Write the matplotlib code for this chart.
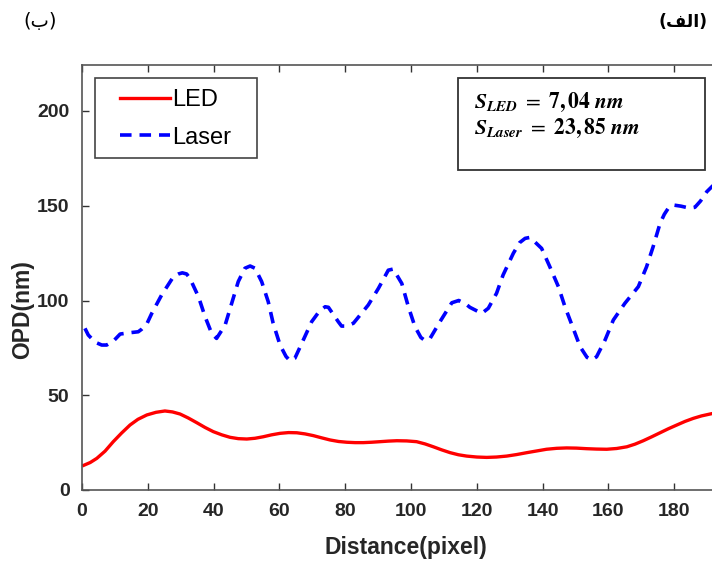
import matplotlib
matplotlib.use("Agg")
import matplotlib.pyplot as plt

# ---- data ----
laser_x = [0.9, 1.9, 4.0, 6.0, 7.5, 9.5, 11.6, 14.5, 17.1, 18.1, 19.8, 21.2, 24.2, 27.8, 29.3,
           30.5, 31.8, 32.8, 35.4, 37.4, 39.4, 40.9, 43.5, 45.5, 47.5, 49.5, 51.1, 52.6, 54.6, 56.6,
           58.1, 60.2, 62.0, 63.2, 64.7, 66.8, 69.8, 72.0, 73.9, 74.9, 77.9, 78.9, 80.5, 82.5,
           87.0, 90.1, 93.1, 94.6, 97.2, 99.2, 101.2, 103.0, 104.3, 105.8, 108.8, 112.4, 114.5,
           116.4, 117.9, 121.5, 123.5, 126.0, 128.0, 131.1, 133.0, 134.7, 136.2, 139.7, 142.2,
           144.8, 146.8, 149.3, 151.4, 153.5, 154.9, 156.4, 159.0, 161.5, 165.0, 169.1, 171.6,
           173.6, 175.7, 177.0, 178.2, 179.7, 182.0, 184.8, 186.3, 188.0, 189.9, 192.0]
laser_y = [85.3, 81.8, 78.0, 76.5, 76.5, 78.5, 82.3, 83.0, 83.5, 84.8, 88.0, 93.2, 102.9, 112.6,
           114.0, 114.6, 114.0, 111.7, 102.0, 91.5, 82.7, 80.0, 87.0, 98.5, 110.0, 117.0, 118.2, 117.0,
           110.0, 99.4, 88.0, 76.5, 70.5, 68.2, 69.5, 77.4, 88.8, 94.0, 96.7, 96.4, 88.8, 86.5,
           86.5, 88.0, 97.6, 106.4, 116.0, 116.6, 109.0, 96.7, 86.2, 80.5, 78.8, 80.0, 88.8,
           98.8, 100.0, 98.5, 96.4, 93.2, 95.9, 103.8, 113.5, 124.9, 130.5, 132.8, 133.3, 127.5,
           117.8, 107.3, 96.7, 85.3, 75.6, 70.0, 68.6, 70.3, 79.2, 89.7, 98.5, 107.3, 117.8,
           128.4, 140.7, 145.5, 148.7, 150.4, 149.8, 148.7, 149.2, 152.5, 157.4, 161.0]

led_x = [0.5, 2.5, 4.5, 7.0, 9.5, 12.0, 14.6, 17.0, 19.7, 22.5, 25.2, 27.5, 29.8, 32.3, 34.9,
         37.4, 39.9, 42.5, 45.0, 47.5, 50.1, 52.6, 55.1, 57.6, 60.2, 62.8, 65.3, 67.8, 70.3,
         72.9, 75.4, 78.0, 80.5, 83.0, 85.5, 88.0, 90.6, 93.1, 95.7, 98.7, 101.7, 104.3, 106.8,
         109.3, 111.9, 114.4, 116.9, 120.0, 123.0, 126.0, 129.1, 132.1, 135.2, 138.2, 141.2,
         144.3, 147.3, 150.3, 153.4, 156.4, 159.5, 162.5, 165.6, 168.1, 170.6, 173.2, 175.7,
         178.2, 180.8, 183.3, 185.8, 188.3, 190.9, 192.0]
led_y = [13.0, 14.5, 16.7, 20.5, 25.5, 30.0, 34.3, 37.3, 39.6, 41.0, 41.7, 41.2, 40.1, 38.0, 35.5,
         33.0, 30.8, 29.1, 27.8, 27.1, 26.9, 27.3, 28.1, 29.1, 29.9, 30.3, 30.2, 29.6, 28.7,
         27.5, 26.4, 25.6, 25.2, 25.0, 25.0, 25.2, 25.5, 25.8, 26.0, 25.9, 25.5, 24.3, 22.8,
         21.2, 19.7, 18.6, 17.9, 17.4, 17.2, 17.4, 17.9, 18.7, 19.7, 20.6, 21.5,
         22.0, 22.2, 22.1, 21.8, 21.6, 21.5, 21.9, 22.8, 24.2, 26.0, 28.1, 30.2,
         32.3, 34.3, 36.2, 37.8, 39.1, 40.1, 40.5]

series_labels = ["LED", "Laser"]
x_ticks = [0, 20, 40, 60, 80, 100, 120, 140, 160, 180]
y_ticks = [0, 50, 100, 150, 200]
stats_lines = [r"$\mathbfit{S}_{\mathbfit{LED}}\ =\ \mathbf{7,04}\ \mathbfit{nm}$",
               r"$\mathbfit{S}_{\mathbfit{Laser}}\ =\ \mathbf{23,85}\ \mathbfit{nm}$"]
panel_right = "(\ufed2\ufedf\ufe8d)"   # (الف) rendered visually
panel_left = "(ب)"

plt.rcParams['font.family'] = ['Liberation Sans', 'DejaVu Sans']
plt.rcParams['mathtext.fontset'] = 'stix'

W, H = 712, 561
fig = plt.figure(figsize=(W / 100, H / 100), dpi=100)
left, right, bottom, top = 82, 730, 490, 65
ax = fig.add_axes([left / W, 1 - bottom / H, (right - left) / W, (bottom - top) / H])

ax.plot(led_x, led_y, color='#FF0000', lw=2.4, label=series_labels[0])
ax.plot(laser_x, laser_y, color='#0000FF', lw=2.6, linestyle=(0, (3.2, 2.2)), label=series_labels[1])

ax.set_xlim(0, (right - left) / 3.29)
ax.set_ylim(0, (bottom - top) / 1.895)
ax.set_xticks(x_ticks)
ax.set_yticks(y_ticks)
ax.tick_params(direction='in', top=True, right=True, length=5, width=1, color='#333333',
               labelsize=14, labelcolor='#262626', pad=9)
for lab in ax.get_xticklabels() + ax.get_yticklabels():
    lab.set_fontweight('bold')
for s in ax.spines.values():
    s.set_color('#555555')
    s.set_linewidth(1.2)

ax.set_xlabel("Distance(pixel)", fontsize=16.5, fontweight='bold', color='#262626', labelpad=12)
ax.set_ylabel("OPD(nm)", fontsize=16.5, fontweight='bold', color='#262626')
ax.yaxis.set_label_coords((34 - left) / (right - left), (bottom - 310) / (bottom - top))

def fx(px):
    return (px - left) / (right - left)

def fy(py):
    return (bottom - py) / (bottom - top)

leg = ax.legend(loc='upper left', bbox_to_anchor=(fx(120), fy(89)),
                fontsize=17, handlelength=2.1, handletextpad=0.1, borderpad=0,
                labelspacing=0.66, frameon=False, borderaxespad=0)
ax.add_patch(plt.Rectangle((fx(95), fy(158)), fx(257) - fx(95), fy(78) - fy(158),
                           transform=ax.transAxes, fill=True, facecolor='white',
                           edgecolor='#444444', lw=1.2, zorder=4))
leg.set_zorder(6)

# stats box
ax.add_patch(plt.Rectangle((fx(458), fy(170)), fx(705) - fx(458), fy(78) - fy(170),
                           transform=ax.transAxes, fill=False, edgecolor='#333333',
                           lw=1.3, zorder=5))
ax.text(fx(474), fy(102), stats_lines[0], fontsize=15.5, transform=ax.transAxes,
        va='center', ha='left', color='black', zorder=6)
ax.text(fx(474), fy(128), stats_lines[1], fontsize=15.5, transform=ax.transAxes,
        va='center', ha='left', color='black', zorder=6)

fig.text(40 / W, 1 - 22 / H, panel_left, fontsize=14, ha='center', va='center',
         family=['DejaVu Sans'])
fig.text(708 / W, 1 - 22 / H, panel_right, fontsize=12.5, fontweight='bold', ha='right',
         va='center', family=['DejaVu Sans'])

fig.savefig("out.png", dpi=100)
